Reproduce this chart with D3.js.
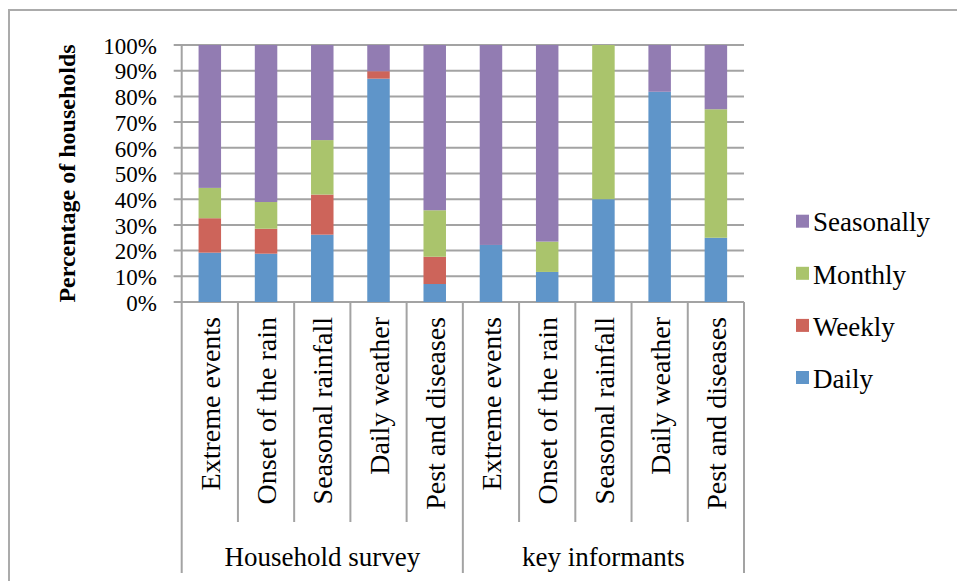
<!DOCTYPE html>
<html><head><meta charset="utf-8">
<script src="https://cdn.jsdelivr.net/npm/d3@7/dist/d3.min.js"></script>
<style>
html,body{margin:0;padding:0;background:#fff;}
svg{display:block;}
text{font-family:"Liberation Serif","Times New Roman",serif;fill:#000;}
</style></head>
<body>
<svg id="chart" width="957" height="581"></svg>
<script>
const categories = ["Extreme events","Onset of the rain","Seasonal rainfall","Daily weather","Pest and diseases",
                    "Extreme events","Onset of the rain","Seasonal rainfall","Daily weather","Pest and diseases"];
const groups = ["Household survey","key informants"];
const seriesNames = ["Daily","Weekly","Monthly","Seasonally"];
const daily      = [19.2, 18.8, 26.2, 86.9,  7.0, 22.2, 11.7, 40.0, 81.8, 25.0];
const weekly     = [13.4,  9.7, 15.6,  2.9, 10.6,  0.0,  0.0,  0.0,  0.0,  0.0];
const monthly    = [11.8, 10.4, 21.2,  0.0, 18.1,  0.0, 11.8, 60.0,  0.0, 50.0];
const seasonally = [55.6, 61.1, 37.0, 10.2, 64.3, 77.8, 76.5,  0.0, 18.2, 25.0];
const yTicks = [0,10,20,30,40,50,60,70,80,90,100];
const colors = {Daily:"#5F95C9", Weekly:"#CD645A", Monthly:"#AAC46C", Seasonally:"#927CB2"};

const svg = d3.select("#chart");
const gridCol = "#a3a3a3";
const X0 = 181.7, X1 = 744, Y0 = 302, Y1 = 45;

const rows = categories.map((c,i)=>({idx:i, Daily:daily[i], Weekly:weekly[i], Monthly:monthly[i], Seasonally:seasonally[i]}));
const x = d3.scaleBand().domain(d3.range(categories.length)).range([X0, X1]).paddingInner(0.6).paddingOuter(0.3);
const y = d3.scaleLinear().domain([0,100]).range([Y0, Y1]);

// outer chart border
svg.append("path").attr("d", `M9,581 L9,10 L957,10`).attr("fill","none").attr("stroke","#ababab").attr("stroke-width",2);

// gridlines
svg.append("g").selectAll("line").data(yTicks).join("line")
  .attr("x1", X0-8).attr("x2", X1).attr("y1", d=>y(d)).attr("y2", d=>y(d))
  .attr("stroke", gridCol).attr("stroke-width", 2);

// bars
const stack = d3.stack().keys(seriesNames)(rows);
svg.append("g").selectAll("g").data(stack).join("g")
  .attr("fill", d=>colors[d.key])
  .selectAll("rect").data(d=>d).join("rect")
  .attr("x", d=>x(d.data.idx)).attr("width", x.bandwidth())
  .attr("y", d=>y(d[1])).attr("height", d=>Math.max(0, y(d[0])-y(d[1])));

// y axis line
svg.append("line").attr("x1",X0).attr("x2",X0).attr("y1",Y1).attr("y2",Y0).attr("stroke",gridCol).attr("stroke-width",2);

// y tick labels
svg.append("g").selectAll("text").data(yTicks).join("text")
  .attr("x", 157).attr("y", d=>y(d)).attr("dy","0.38em").attr("text-anchor","end")
  .style("font-size","23px").text(d=>d+"%");

// category separators
const step = x.step();
const bounds = d3.range(categories.length+1);
svg.append("g").selectAll("line").data(bounds).join("line")
  .attr("x1", i=>X0+i*step).attr("x2", i=>X0+i*step)
  .attr("y1", Y0).attr("y2", i=> (i%5===0) ? 573 : 522)
  .attr("stroke", gridCol).attr("stroke-width", 2);

// category labels
svg.append("g").selectAll("text").data(categories).join("text")
  .attr("transform",(d,i)=>`translate(${x(i)+x.bandwidth()/2},317) rotate(-90)`)
  .attr("dy","0.36em").attr("text-anchor","end")
  .style("font-size","28px").text(d=>d);

// group labels
svg.append("g").selectAll("text").data(groups).join("text")
  .attr("x",(d,i)=>X0 + (i*5+2.5)*step).attr("y",566).attr("text-anchor","middle")
  .style("font-size","27px").text(d=>d);

// y axis title
svg.append("text").attr("transform",`translate(67,${(Y0+Y1)/2}) rotate(-90)`)
  .attr("dy","0.35em").attr("text-anchor","middle")
  .style("font-size","24px").style("font-weight","bold").text("Percentage of households");

// legend
const legendItems = ["Seasonally","Monthly","Weekly","Daily"];
const legendY = d3.scalePoint().domain(legendItems).range([221.7, 378]);
const lg = svg.append("g").selectAll("g").data(legendItems).join("g")
  .attr("transform", d=>`translate(796,${legendY(d)})`);
lg.append("rect").attr("x",0).attr("y",-7).attr("width",13).attr("height",13).attr("fill",d=>colors[d]);
lg.append("text").attr("x",17).attr("dy","0.36em").style("font-size","27px").text(d=>d);
</script>
</body></html>
